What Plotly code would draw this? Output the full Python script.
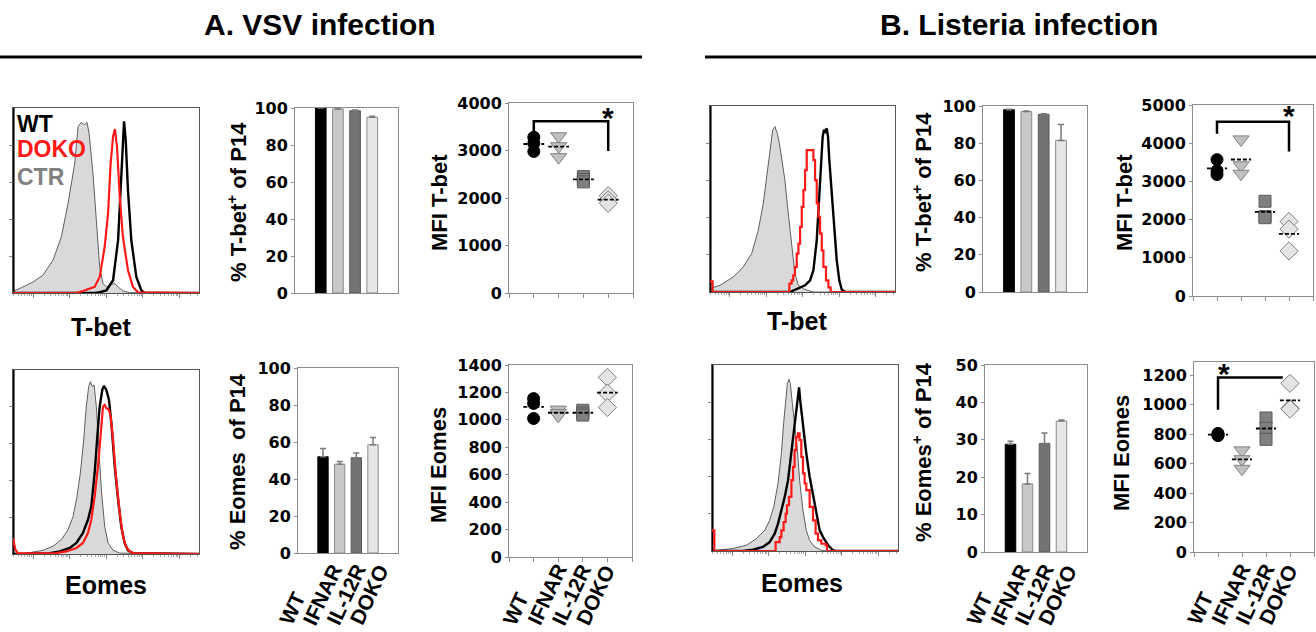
import math
import plotly.graph_objects as go

W, H = 1316, 632

# ---------------- data ----------------
groups = ["WT", "IFNAR", "IL-12R", "DOKO"]
grp_pos = [1, 2, 3, 4]

# % positive bars (mean, upper error)
A_tbet_pct = [100.0, 99.5, 98.5, 95.0]
A_tbet_pct_err = [0.0, 0.3, 0.4, 0.6]
A_eomes_pct = [52.0, 48.0, 51.5, 58.5]
A_eomes_pct_err = [4.5, 1.5, 2.5, 4.0]
B_tbet_pct = [98.0, 97.0, 95.5, 81.5]
B_tbet_pct_err = [0.3, 0.3, 0.3, 8.5]
B_eomes_pct = [28.8, 18.2, 29.0, 35.0]
B_eomes_pct_err = [0.8, 2.8, 2.8, 0.3]

# MFI individual mice per group
A_tbet_mfi = [[3280, 3150, 2980], [3300, 3090, 2860], [2450, 2390, 2340], [2050, 1960, 1890]]
A_eomes_mfi = [[1155, 1120, 1010], [1075, 1050, 1030], [1070, 1050, 1035], [1310, 1195, 1090]]
B_tbet_mfi = [[3570, 3180, 3280], [4100, 3420, 3200], [2480, 2080, 2050], [1950, 1750, 1180]]
B_eomes_mfi = [[805, 795, 790], [690, 630, 565], [910, 840, 765], [1145, 975, 970]]

# significance brackets (group positions, heights)
A_tbet_sig_x = [1, 1, 4, 4]
A_tbet_sig_y = [3400, 3615, 3615, 2990]
A_tbet_star = (4, 3700)
B_tbet_sig_x = [1, 1, 4, 4]
B_tbet_sig_y = [4250, 4560, 4560, 3780]
B_tbet_star = (4, 4720)
B_eomes_sig_x = [1, 1, 3.7]
B_eomes_sig_y = [965, 1185, 1185]
B_eomes_star = (1.25, 1215)

# flow histograms (channel 0-1000, % of max)
A_tbet_ctr_x = [0, 36, 108, 161, 215, 260, 296, 332, 350, 367, 385, 398, 409, 430, 448, 466, 484, 502, 529, 547, 565, 591, 627, 1000]
A_tbet_ctr_y = [1.1, 2.4, 6.0, 9.6, 17.7, 30.4, 48.5, 70.2, 90, 92.2, 91, 92.2, 86.4, 64.7, 39.4, 14.1, 5.1, 3.3, 4.7, 5.1, 3.3, 1.1, 0.2, 0]
A_tbet_wt_x = [2, 2, 440, 466, 502, 538, 565, 577, 588, 597, 606, 618, 636, 663, 690, 708, 1000]
A_tbet_wt_y = [100, 0, 0, 0.4, 1.4, 6.9, 28.6, 55.7, 81, 92.8, 82.8, 55.7, 28.6, 8.7, 1.4, 0.2, 0]
A_tbet_doko_x = [0, 340, 376, 439, 466, 493, 511, 525, 538, 548, 559, 574, 591, 618, 645, 672, 1000]
A_tbet_doko_y = [0, 0, 1.1, 3.3, 8.7, 25, 43, 70, 84.6, 88.6, 79.2, 52, 30.4, 12.3, 3.3, 0.4, 0]

A_eomes_ctr_x = [0, 60, 99, 161, 215, 260, 296, 323, 344, 362, 380, 394, 407, 416, 427, 436, 448, 462, 475, 493, 511, 538, 574, 1000]
A_eomes_ctr_y = [0, 0.2, 0.9, 2.0, 4.2, 7.8, 13.2, 20.4, 31.3, 43.9, 62, 80.1, 91, 93.7, 91, 91.9, 80.1, 56.6, 34.9, 15, 6, 2, 0.5, 0]
A_eomes_wt_x = [2, 2, 197, 251, 305, 341, 376, 403, 421, 439, 452, 466, 480, 489, 502, 516, 529, 547, 565, 582, 600, 618, 645, 1000]
A_eomes_wt_y = [100, 0, 0.5, 1.4, 3.3, 6, 11.4, 18.6, 25.9, 43.9, 62, 80.1, 89.2, 91.3, 89.2, 83.7, 71, 47.6, 29.5, 15, 6, 2, 0.5, 0]
A_eomes_doko_x = [0, 12.5, 27, 233, 287, 341, 376, 403, 421, 439, 457, 471, 484, 493, 502, 516, 525, 538, 552, 570, 588, 606, 627, 645, 1000]
A_eomes_doko_y = [8.7, 2.4, 0.4, 0.5, 1.4, 3.3, 6, 11.4, 18.6, 31.3, 47.6, 63.8, 80.1, 81, 79.2, 78.3, 74.7, 62, 43.9, 25.9, 11.4, 4.2, 1.4, 0.5, 0]

B_tbet_ctr_x = [0, 54, 126, 180, 225, 261, 288, 306, 324, 339, 351, 364, 375, 387, 405, 423, 441, 459, 478, 505, 526, 559, 1000]
B_tbet_ctr_y = [1.8, 3.6, 8.1, 13.5, 20.6, 33.2, 47.6, 62, 78.1, 87.1, 88.9, 85.3, 79.9, 72.7, 60.1, 42.2, 24.2, 9.9, 3.6, 1.8, 0.9, 0, 0]
B_tbet_wt_x = [2, 2, 432, 459, 487, 514, 541, 559, 577, 586, 595, 604, 609, 616, 623, 631, 638, 645, 658, 670, 685, 699, 712, 730, 1000]
B_tbet_wt_y = [100, 0, 0, 1.3, 2.7, 3.6, 6.3, 11.7, 27.8, 44, 60.1, 74.5, 83.5, 87.1, 86.2, 88, 83.5, 70.9, 53, 35, 17.1, 6.3, 1.3, 0, 0]
B_tbet_doko_x = [0, 14, 429, 441, 450, 459, 469, 478, 487, 496, 505, 514, 523, 559, 568, 577, 586, 595, 604, 613, 627, 640, 652, 1000]
B_tbet_doko_y = [5.7, 0, 4.5, 6.3, 9, 13.5, 20.6, 26, 35, 45.8, 54.8, 65.5, 76.3, 70.9, 60.1, 47.6, 40.4, 31.4, 22.4, 13.5, 6.3, 2.5, 0, 0]

B_eomes_ctr_x = [0, 23, 113, 185, 238, 283, 310, 332, 355, 373, 385, 396, 405, 414, 421, 432, 444, 459, 471, 489, 507, 525, 552, 588, 615, 1000]
B_eomes_ctr_y = [0, 0.4, 1.3, 3.1, 6.6, 11.1, 16.5, 23.7, 36.3, 52.4, 68.6, 82.9, 90.1, 92.3, 90.1, 79.4, 68.6, 54.2, 38.1, 21.9, 11.1, 5.7, 2.2, 0.4, 0, 0]
B_eomes_wt_x = [2, 2, 167, 220, 274, 310, 337, 355, 373, 391, 409, 427, 444, 457, 468, 475, 489, 507, 525, 543, 561, 579, 597, 624, 651, 668, 1000]
B_eomes_wt_y = [100, 0, 0, 0.7, 2.2, 4.8, 9.3, 14.7, 21.9, 29.1, 38.1, 52.4, 68.6, 79.4, 88, 80.3, 66.8, 52.4, 39.9, 30.9, 20.1, 11.1, 7.5, 3.1, 0.4, 0, 0]
B_eomes_doko_x = [0, 12.5, 342, 364, 373, 385, 396, 403, 414, 427, 436, 444, 453, 462, 471, 480, 489, 498, 507, 525, 543, 557, 570, 588, 611, 618, 1000]
B_eomes_doko_y = [11.1, 0, 4.8, 7.5, 11.1, 15.6, 20.1, 24.6, 29.1, 38.1, 45.2, 54.2, 61.4, 63.2, 59.6, 50.6, 41.7, 36.3, 32.7, 23.7, 16.5, 9.3, 5.7, 3.9, 3.1, 0, 0]

# ---------------- styling ----------------
ARIAL = "Liberation Sans, Arial, sans-serif"
TICKF = dict(family="DejaVu Sans, sans-serif", size=16, color="black", weight="bold")
bar_fill = ["#000000", "#c8c8c8", "#737373", "#e6e6e6"]
bar_line = ["#000000", "#8a8a8a", "#5a5a5a", "#8a8a8a"]
sym = ["circle", "triangle-down", "square", "diamond"]
sym_fill = ["#000000", "#c0c0c0", "#808080", "#e4e4e4"]
sym_line = ["#000000", "#808080", "#5a5a5a", "#808080"]
sym_size = [12, 14, 12, 14]
AX = "#8c8c8c"


def dom_x(a, b):
    return [a / W, b / W]


def dom_y(top, bottom):
    return [1 - bottom / H, 1 - top / H]


def nm(n):
    return "" if n == 1 else str(n)


fig = go.Figure()
layout = dict(width=W, height=H, autosize=False,
              margin=dict(l=0, r=0, t=0, b=0, pad=0, autoexpand=False),
              paper_bgcolor="white", plot_bgcolor="white", showlegend=False)
annotations = []
shapes = []

# log-decade tick positions of the flow axis
dec0, decw = 107.5, 197.0
major_t, minor_t = [], []
for k in range(-1, 5):
    for m in range(1, 10):
        p = dec0 + decw * (k + math.log10(m))
        if 0 < p < 1000:
            (major_t if m == 1 else minor_t).append(p)


def hist_panel(n, box, ctr, wt, doko, doko_shape):
    x0, x1, y0, y1 = box
    layout["xaxis" + nm(n)] = dict(domain=dom_x(x0, x1), range=[0, 1000], anchor="y" + nm(n),
                                   showline=True, mirror=True, linecolor="#555", linewidth=1,
                                   showgrid=False, zeroline=False, showticklabels=False,
                                   automargin=False,
                                   tickmode="array", tickvals=major_t, ticks="outside", ticklen=4,
                                   tickcolor="#888",
                                   minor=dict(tickmode="array", tickvals=minor_t, ticks="outside",
                                              ticklen=2, tickcolor="#aaa"))
    layout["yaxis" + nm(n)] = dict(domain=dom_y(y0, y1), range=[0, 100], anchor="x" + nm(n),
                                   showline=True, mirror=True, linecolor="#555", linewidth=1,
                                   showgrid=False, zeroline=False, showticklabels=False,
                                   automargin=False,
                                   tickmode="array", tickvals=[20, 40, 60, 80], ticks="outside",
                                   ticklen=3, tickcolor="#888")
    xa, ya = "x" + nm(n), "y" + nm(n)
    fig.add_trace(go.Scatter(x=ctr[0], y=ctr[1], xaxis=xa, yaxis=ya, mode="lines",
                             fill="tozeroy", fillcolor="#d9d9d9",
                             line=dict(color="#5f5f5f", width=1), hoverinfo="skip"))
    fig.add_trace(go.Scatter(x=wt[0], y=wt[1], xaxis=xa, yaxis=ya, mode="lines",
                             line=dict(color="black", width=2.4), hoverinfo="skip"))
    fig.add_trace(go.Scatter(x=doko[0], y=doko[1], xaxis=xa, yaxis=ya, mode="lines",
                             line=dict(color="#ff1a1a", width=2.2, shape=doko_shape), hoverinfo="skip"))


def bar_panel(n, box, vals, errs, ymax, dtick, title, title_xy):
    x0, x1, y0, y1 = box
    layout["xaxis" + nm(n)] = dict(domain=dom_x(x0, x1), range=[-0.5, 5.5], anchor="y" + nm(n),
                                   showline=True, mirror=True, linecolor=AX, linewidth=1,
                                   automargin=False,
                                   showgrid=False, zeroline=False, showticklabels=False, ticks="")
    layout["yaxis" + nm(n)] = dict(domain=dom_y(y0, y1), range=[0, ymax], anchor="x" + nm(n),
                                   showline=True, mirror=True, linecolor=AX, linewidth=1,
                                   automargin=False,
                                   showgrid=False, zeroline=False, tickmode="linear", tick0=0,
                                   dtick=dtick, ticks="outside", ticklen=3, tickcolor=AX,
                                   tickfont=TICKF)
    fig.add_trace(go.Bar(x=grp_pos, y=vals, xaxis="x" + nm(n), yaxis="y" + nm(n), width=0.62,
                         marker=dict(color=bar_fill, line=dict(color=bar_line, width=1)),
                         error_y=dict(type="data", symmetric=False, array=errs,
                                      arrayminus=[0] * len(errs), color="#7a7a7a",
                                      thickness=1.5, width=3),
                         hoverinfo="skip"))
    annotations.append(dict(text="<b>" + title + "</b>", textangle=-90, showarrow=False,
                            xref="paper", yref="paper", x=title_xy[0] / W, y=1 - title_xy[1] / H,
                            xanchor="center", yanchor="middle",
                            font=dict(family=ARIAL, size=22, color="black")))


def dot_panel(n, box, pts, ymax, dtick, title, title_xy, sig=None):
    x0, x1, y0, y1 = box
    layout["xaxis" + nm(n)] = dict(domain=dom_x(x0, x1), range=[0, 5], anchor="y" + nm(n),
                                   showline=True, mirror=True, linecolor=AX, linewidth=1,
                                   automargin=False,
                                   showgrid=False, zeroline=False, showticklabels=False,
                                   tickmode="array", tickvals=[0, 1, 2, 3, 4, 5],
                                   ticks="outside", ticklen=4, tickcolor=AX)
    layout["yaxis" + nm(n)] = dict(domain=dom_y(y0, y1), range=[0, ymax], anchor="x" + nm(n),
                                   showline=True, mirror=True, linecolor=AX, linewidth=1,
                                   automargin=False,
                                   showgrid=False, zeroline=False, tickmode="linear", tick0=0,
                                   dtick=dtick, ticks="outside", ticklen=3, tickcolor=AX,
                                   tickfont=TICKF)
    xa, ya = "x" + nm(n), "y" + nm(n)
    for i, g in enumerate(pts):
        fig.add_trace(go.Scatter(x=[grp_pos[i]] * len(g), y=g, xaxis=xa, yaxis=ya, mode="markers",
                                 marker=dict(symbol=sym[i], size=sym_size[i], color=sym_fill[i],
                                             line=dict(color=sym_line[i], width=1)),
                                 hoverinfo="skip"))
        mean = sum(g) / len(g)
        fig.add_trace(go.Scatter(x=[grp_pos[i] - 0.42, grp_pos[i] + 0.42], y=[mean, mean],
                                 xaxis=xa, yaxis=ya, mode="lines",
                                 line=dict(color="black", width=1.8, dash="4px,2px"),
                                 hoverinfo="skip"))
    if sig is not None:
        sx, sy, star = sig
        fig.add_trace(go.Scatter(x=sx, y=sy, xaxis=xa, yaxis=ya, mode="lines",
                                 line=dict(color="black", width=2.5), hoverinfo="skip"))
        annotations.append(dict(text="<b>*</b>", x=star[0], y=star[1], xref=xa, yref=ya,
                                showarrow=False, font=dict(family=ARIAL, size=30, color="black")))
    annotations.append(dict(text="<b>" + title + "</b>", textangle=-90, showarrow=False,
                            xref="paper", yref="paper", x=title_xy[0] / W, y=1 - title_xy[1] / H,
                            xanchor="center", yanchor="middle",
                            font=dict(family=ARIAL, size=22, color="black")))


def group_labels(n, start_shift, extra):
    for i, g in enumerate(groups):
        annotations.append(dict(text="<b>" + g + "</b>", textangle=-65, showarrow=False,
                                xref="x" + nm(n), yref="paper", x=grp_pos[i], y=1 - 631 / H,
                                xanchor="left", yanchor="bottom",
                                xshift=start_shift + extra * i,
                                font=dict(family=ARIAL, size=21, color="black")))


# ---- A: VSV ----
hist_panel(1, (13, 199, 108, 293), (A_tbet_ctr_x, A_tbet_ctr_y), (A_tbet_wt_x, A_tbet_wt_y),
           (A_tbet_doko_x, A_tbet_doko_y), "linear")
bar_panel(2, (295, 398, 108, 293), A_tbet_pct, A_tbet_pct_err, 100, 20,
          "% T-bet<sup>+</sup> of P14", (237, 202))
dot_panel(3, (509, 633, 103, 293), A_tbet_mfi, 4000, 1000, "MFI T-bet", (440, 203),
          (A_tbet_sig_x, A_tbet_sig_y, A_tbet_star))
hist_panel(7, (13, 199, 370, 554), (A_eomes_ctr_x, A_eomes_ctr_y), (A_eomes_wt_x, A_eomes_wt_y),
           (A_eomes_doko_x, A_eomes_doko_y), "linear")
bar_panel(8, (298, 398, 368, 553), A_eomes_pct, A_eomes_pct_err, 100, 20,
          "% Eomes\u00a0\u00a0of P14", (237, 462))
dot_panel(9, (509, 632, 365, 557), A_eomes_mfi, 1400, 200, "MFI Eomes", (438, 465))

# ---- B: Listeria ----
hist_panel(4, (710, 895, 106, 292), (B_tbet_ctr_x, B_tbet_ctr_y), (B_tbet_wt_x, B_tbet_wt_y),
           (B_tbet_doko_x, B_tbet_doko_y), "hv")
bar_panel(5, (983, 1087, 106, 292), B_tbet_pct, B_tbet_pct_err, 100, 20,
          "% T-bet<sup>+</sup> of P14", (922, 192))
dot_panel(6, (1193, 1313, 105, 296), B_tbet_mfi, 5000, 1000, "MFI T-bet", (1125, 203),
          (B_tbet_sig_x, B_tbet_sig_y, B_tbet_star))
hist_panel(10, (712, 898, 365, 551), (B_eomes_ctr_x, B_eomes_ctr_y), (B_eomes_wt_x, B_eomes_wt_y),
           (B_eomes_doko_x, B_eomes_doko_y), "hv")
bar_panel(11, (985, 1087, 365, 552), B_eomes_pct, B_eomes_pct_err, 50, 10,
          "% Eomes<sup>+</sup> of P14", (922, 452))
dot_panel(12, (1194, 1314, 362, 552), B_eomes_mfi, 1290, 200, "MFI Eomes", (1121, 453),
          (B_eomes_sig_x, B_eomes_sig_y, B_eomes_star))

# category labels under bottom row
group_labels(8, -51, 7)
group_labels(9, -38, 0)
group_labels(11, -51, 7)
group_labels(12, -38, 0)

# histogram labels and legend
for txt, x, y in [("T-bet", 101, 327), ("Eomes", 106, 585), ("T-bet", 797, 321), ("Eomes", 802, 583)]:
    annotations.append(dict(text="<b>" + txt + "</b>", x=x / W, y=1 - y / H, xref="paper", yref="paper",
                            showarrow=False, xanchor="center", yanchor="middle",
                            font=dict(family=ARIAL, size=25, color="black")))
for txt, col, y in [("WT", "black", 124), ("DOKO", "#ff1a1a", 149), ("CTR", "#808080", 177)]:
    annotations.append(dict(text="<b>" + txt + "</b>", x=15 / W, y=1 - y / H, xref="paper", yref="paper",
                            showarrow=False, xanchor="left", yanchor="middle",
                            font=dict(family=ARIAL, size=23, color=col)))

# panel titles and rules
annotations.append(dict(text="<b>A. VSV infection</b>", x=320 / W, y=1 - 25 / H, xref="paper", yref="paper",
                        showarrow=False, xanchor="center", yanchor="middle",
                        font=dict(family=ARIAL, size=30, color="black")))
annotations.append(dict(text="<b>B. Listeria infection</b>", x=1019 / W, y=1 - 25 / H, xref="paper",
                        yref="paper", showarrow=False, xanchor="center", yanchor="middle",
                        font=dict(family=ARIAL, size=30, color="black")))
shapes.append(dict(type="line", xref="paper", yref="paper", x0=0, x1=642 / W, y0=1 - 57 / H, y1=1 - 57 / H,
                   line=dict(color="black", width=3)))
shapes.append(dict(type="line", xref="paper", yref="paper", x0=705 / W, x1=1, y0=1 - 57 / H, y1=1 - 57 / H,
                   line=dict(color="black", width=3)))

layout["annotations"] = annotations
layout["shapes"] = shapes
fig.update_layout(**layout)
fig.write_html("out.html", config={"displayModeBar": False},
               post_script="document.body.style.margin='0px';document.body.style.padding='0px';"
                           "document.body.style.overflow='hidden';")
